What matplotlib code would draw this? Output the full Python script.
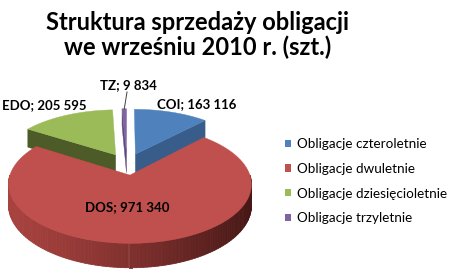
import numpy as np
import matplotlib
matplotlib.use('Agg')
from matplotlib import pyplot as plt
from matplotlib.collections import PolyCollection
from matplotlib.patches import Polygon, Patch
from matplotlib.colors import to_rgb

plt.rcParams['font.family'] = ['Lato', 'DejaVu Sans']

# data
codes = ['COI', 'DOS', 'EDO', 'TZ']
names = ['Obligacje czteroletnie', 'Obligacje dwuletnie',
         'Obligacje dziesięcioletnie', 'Obligacje trzyletnie']
sold = [163116, 971340, 205595, 9834]

top_colors = ['#4f81bd', '#c0504d', '#9bbb59', '#8064a2']
wall_colors = ['#385d8a', '#8c302d', '#4c5b28', '#5f4a80']
rim_light = ['#4a76ab', '#a8423f', '#8aa84e', '#71588f']
rim_dark = ['#2c4a70', '#471816', '#3f4c20', '#4a3866']

# label placement (pixels, centre) and 3d view settings
label_pos = [(197, 104), (127, 207), (44, 105), (128, 85)]
CX, CY = 127, 164
RX, RY = 116.4, 54.3
PERSP = 0.15
DEPTH = 20
EXPLODE = 0.2


def project(X, Z, down=0.0):
    f = 1.0 / (1.0 + PERSP * Z)
    return CX + RX * X * f, CY - RY * Z * f + DEPTH * down * f


def arc(ox, oz, a, b, n=60, down=0.0):
    th = np.radians(np.linspace(a, b, n))
    return project(ox + np.sin(th), oz + np.cos(th), down)


fig = plt.figure(figsize=(4.5, 2.75), dpi=100)
ax = fig.add_axes([0, 0, 1, 1])
ax.set_xlim(0, 450)
ax.set_ylim(275, 0)
ax.axis('off')

values = np.array(sold, dtype=float)
angles = np.concatenate([[0], np.cumsum(values / values.sum() * 360)])

for i in range(len(values)):
    a, b = angles[i], angles[i + 1]
    m = np.radians((a + b) / 2)
    ox, oz = EXPLODE * np.sin(m), EXPLODE * np.cos(m)

    # radial walls facing the viewer
    for edge, visible in ((a, 180 < a < 360), (b, 0 < b < 180)):
        if not visible:
            continue
        ex, ez = ox + np.sin(np.radians(edge)), oz + np.cos(np.radians(edge))
        pts = [project(ox, oz), project(ex, ez), project(ex, ez, 1), project(ox, oz, 1)]
        ax.add_patch(Polygon(pts, closed=True, fc=wall_colors[i], ec=wall_colors[i],
                             lw=0.3, zorder=1))

    # outer rim on the front half, shaded left to right
    lo, hi = max(a, 90), min(b, 270)
    if lo < hi:
        tx, ty = arc(ox, oz, lo, hi, 120)
        bx, by = arc(ox, oz, lo, hi, 120, 1)
        quads, cols = [], []
        c0, c1 = np.array(to_rgb(rim_light[i])), np.array(to_rgb(rim_dark[i]))
        x0, x1 = CX - RX * 1.05, CX + RX * 1.05
        for k in range(len(tx) - 1):
            quads.append([(tx[k], ty[k]), (tx[k + 1], ty[k + 1]),
                          (bx[k + 1], by[k + 1]), (bx[k], by[k])])
            t = np.clip(((tx[k] + tx[k + 1]) / 2 - x0) / (x1 - x0), 0, 1) ** 1.3
            cols.append(c0 * (1 - t) + c1 * t)
        ax.add_collection(PolyCollection(quads, facecolors=cols, edgecolors=cols,
                                         linewidths=0.6, zorder=1))

    # top face
    tx, ty = arc(ox, oz, a, b, 120)
    apx, apy = project(ox, oz)
    pts = np.column_stack([np.r_[apx, tx], np.r_[apy, ty]])
    ax.add_patch(Polygon(pts, closed=True, fc=top_colors[i], ec=top_colors[i],
                         lw=0.3, zorder=2))

    # data label
    txt = '{}; {}'.format(codes[i], '{:,}'.format(sold[i]).replace(',', ' '))
    lx, ly = label_pos[i]
    ax.text(lx, ly, txt, ha='center', va='center', fontsize=9.5,
            fontweight='bold', color='black', zorder=4)
    if codes[i] == 'TZ':
        px, py = project(ox + np.sin(m), oz + np.cos(m))
        ax.plot([lx - 1, px], [ly + 7, py], color='#404040', lw=0.7, zorder=3)

ax.text(198, 35, 'Struktura sprzedaży obligacji\nwe wrześniu 2010 r. (szt.)',
        ha='center', va='center', fontsize=17, fontweight='bold',
        linespacing=1.05)

handles = [Patch(fc=c, ec='none') for c in top_colors]
ax.legend(handles, names, loc='upper left',
          bbox_to_anchor=(285 / 450, 1 - 138 / 275), frameon=False,
          fontsize=9.7, handlelength=0.45, handleheight=0.45,
          handletextpad=0.45, labelspacing=0.95, borderpad=0,
          borderaxespad=0)

fig.savefig('out.png', dpi=100)
